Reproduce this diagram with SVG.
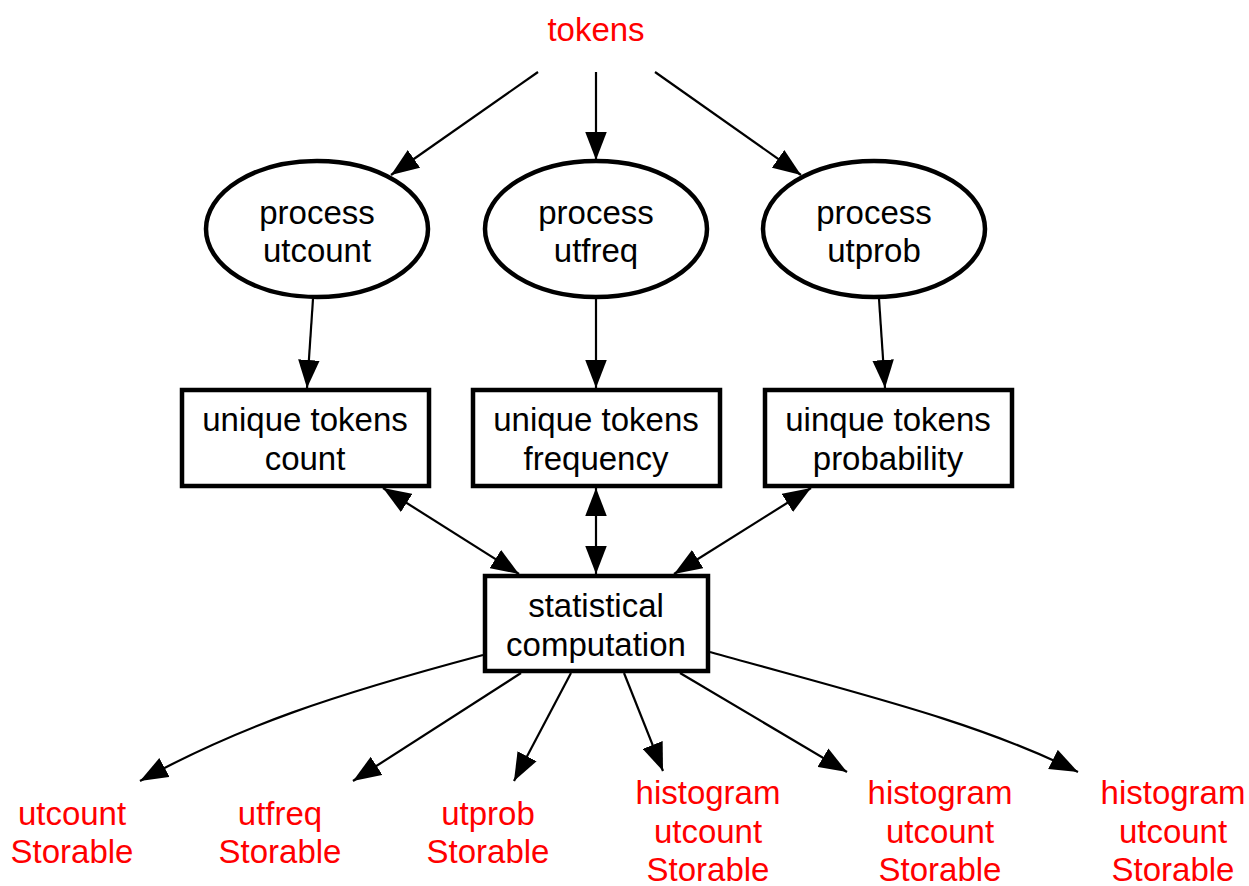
<svg xmlns="http://www.w3.org/2000/svg" width="1249" height="886" viewBox="0 0 1249 886">
  <style>
    .node { fill: #ffffff; stroke: #000000; stroke-width: 4.5; }
    .lbl { font-family: "Liberation Sans", Arial, sans-serif; font-size: 33px; text-anchor: middle; fill: #000000; }
    .io { fill: #ff0000; }
    .edge { fill: none; stroke: #000000; stroke-width: 2.2; }
    .fwd { marker-end: url(#arrow); }
    .both { marker-start: url(#arrow); marker-end: url(#arrow); }
  </style>
  <defs>
    <marker id="arrow" markerUnits="userSpaceOnUse" markerWidth="28" markerHeight="22" viewBox="0 0 26 20" refX="26" refY="10" orient="auto-start-reverse">
      <path d="M0,0 L26,10 L0,20 Z" fill="#000000"/>
    </marker>
  </defs>
  <rect width="1249" height="886" fill="#ffffff"/>

  <!-- connectors -->
  <g id="connectors">
    <line class="edge fwd" x1="538" y1="72" x2="391" y2="175"/>
    <line class="edge fwd" x1="596" y1="72" x2="596" y2="160"/>
    <line class="edge fwd" x1="655" y1="72" x2="801" y2="175"/>

    <line class="edge fwd" x1="313" y1="299" x2="307" y2="388"/>
    <line class="edge fwd" x1="596" y1="299" x2="596" y2="388"/>
    <line class="edge fwd" x1="879" y1="299" x2="885" y2="388"/>

    <line class="edge both" x1="383" y1="488" x2="519" y2="574"/>
    <line class="edge both" x1="596" y1="488" x2="596" y2="574"/>
    <line class="edge both" x1="811" y1="488" x2="674" y2="574"/>

    <path class="edge fwd" d="M483,655 C333,695 240,726 140,781"/>
    <line class="edge fwd" x1="521" y1="673" x2="353" y2="781"/>
    <line class="edge fwd" x1="571" y1="673" x2="514" y2="781"/>
    <line class="edge fwd" x1="624" y1="673" x2="663" y2="771"/>
    <line class="edge fwd" x1="680" y1="673" x2="847" y2="772"/>
    <path class="edge fwd" d="M710,652 C860,694 978,722 1078,772"/>
  </g>

  <!-- input -->
  <g id="tokens">
    <text class="lbl io" x="596" y="41">tokens</text>
  </g>

  <!-- processes -->
  <g id="process_utcount">
    <ellipse class="node" cx="317" cy="229" rx="111" ry="68"/>
    <text class="lbl" x="317" y="224">process</text>
    <text class="lbl" x="317" y="262">utcount</text>
  </g>
  <g id="process_utfreq">
    <ellipse class="node" cx="596" cy="229" rx="111" ry="68"/>
    <text class="lbl" x="596" y="224">process</text>
    <text class="lbl" x="596" y="262">utfreq</text>
  </g>
  <g id="process_utprob">
    <ellipse class="node" cx="874" cy="229" rx="111" ry="68"/>
    <text class="lbl" x="874" y="224">process</text>
    <text class="lbl" x="874" y="262">utprob</text>
  </g>

  <!-- data stores -->
  <g id="utcount">
    <rect class="node" x="182" y="390" width="247" height="96"/>
    <text class="lbl" x="305" y="431">unique tokens</text>
    <text class="lbl" x="305" y="470">count</text>
  </g>
  <g id="utfreq">
    <rect class="node" x="473" y="390" width="247" height="96"/>
    <text class="lbl" x="596" y="431">unique tokens</text>
    <text class="lbl" x="596" y="470">frequency</text>
  </g>
  <g id="utprob">
    <rect class="node" x="765" y="390" width="247" height="96"/>
    <text class="lbl" x="888" y="431">uinque tokens</text>
    <text class="lbl" x="888" y="470">probability</text>
  </g>

  <g id="statistics">
    <rect class="node" x="485" y="576" width="223" height="95"/>
    <text class="lbl" x="596" y="617">statistical</text>
    <text class="lbl" x="596" y="656">computation</text>
  </g>

  <!-- outputs -->
  <g id="utcount_storable">
    <text class="lbl io" x="72" y="825">utcount</text>
    <text class="lbl io" x="72" y="863">Storable</text>
  </g>
  <g id="utfreq_storable">
    <text class="lbl io" x="280" y="825">utfreq</text>
    <text class="lbl io" x="280" y="863">Storable</text>
  </g>
  <g id="utprob_storable">
    <text class="lbl io" x="488" y="825">utprob</text>
    <text class="lbl io" x="488" y="863">Storable</text>
  </g>
  <g id="histogram_1">
    <text class="lbl io" x="708" y="804">histogram</text>
    <text class="lbl io" x="708" y="843">utcount</text>
    <text class="lbl io" x="708" y="881">Storable</text>
  </g>
  <g id="histogram_2">
    <text class="lbl io" x="940" y="804">histogram</text>
    <text class="lbl io" x="940" y="843">utcount</text>
    <text class="lbl io" x="940" y="881">Storable</text>
  </g>
  <g id="histogram_3">
    <text class="lbl io" x="1173" y="804">histogram</text>
    <text class="lbl io" x="1173" y="843">utcount</text>
    <text class="lbl io" x="1173" y="881">Storable</text>
  </g>
</svg>
